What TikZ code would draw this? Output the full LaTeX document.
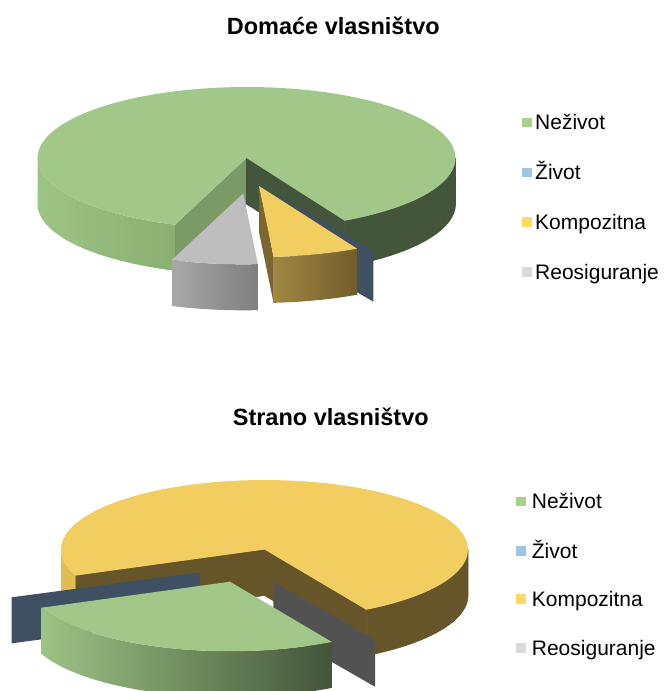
\documentclass[tikz,border=0pt]{standalone}
\usepackage{fontspec}
\setmainfont{Liberation Sans}
\definecolor{gtop}{HTML}{A1C789}
\definecolor{gsideL}{HTML}{9DC385}
\definecolor{gsideR}{HTML}{8AAF72}
\definecolor{gcut}{HTML}{7A9A66}
\definecolor{gdark}{HTML}{43553A}
\definecolor{gmid}{HTML}{85A86E}
\definecolor{ytop}{HTML}{F2CE60}
\definecolor{ysideL}{HTML}{A08744}
\definecolor{ysideR}{HTML}{725C2B}
\definecolor{ycut}{HTML}{7D6530}
\definecolor{yleft}{HTML}{E2BC52}
\definecolor{ydark}{HTML}{67552A}
\definecolor{rtop}{HTML}{BEBEBE}
\definecolor{rsideL}{HTML}{A8A8A8}
\definecolor{rsideR}{HTML}{7F7F7F}
\definecolor{rslab}{HTML}{525252}
\definecolor{bslab}{HTML}{3E5062}
\definecolor{lgN}{HTML}{A9D18E}
\definecolor{lgZ}{HTML}{9DC3E6}
\definecolor{lgK}{HTML}{FFD966}
\definecolor{lgR}{HTML}{D9D9D9}
% top face of a slice: style, cx, cy, rx, ry, t1, t2
\newcommand\PTop[7]{\path[#1] (#2,#3) -- plot[domain=#6:#7,samples=90] ({#2+#4*cos(\x)},{#3+#5*sin(\x)}) -- cycle;}
% outer side of a slice: style, cx, cy, rx, ry, h, t1, t2
\newcommand\PSide[8]{\path[#1] plot[domain=#7:#8,samples=50] ({#2+#4*cos(\x)},{#3+#5*sin(\x)}) -- plot[domain=#8:#7,samples=50] ({#2+#4*cos(\x)},{#3+#6+#5*sin(\x)}) -- cycle;}
% cut face of a slice: style, cx, cy, rx, ry, h, t
\newcommand\PCut[7]{\path[#1] (#2,#3) -- ({#2+#4*cos(#7)},{#3+#5*sin(#7)}) -- ({#2+#4*cos(#7)},{#3+#6+#5*sin(#7)}) -- (#2,{#3+#6}) -- cycle;}
\begin{document}
\begin{tikzpicture}[x=1pt,y=-1pt,
  ttl/.style={font=\bfseries\fontsize{23.5}{28}\selectfont, anchor=base, inner sep=0pt},
  leg/.style={font=\fontsize{21}{25}\selectfont, anchor=base west, inner sep=0pt},
  legbox/.style={minimum width=10pt, minimum height=9.5pt, inner sep=0pt, draw=none},
  gface/.style={fill=gdark, draw=gdark, line width=0.6pt, line join=round},
  yface/.style={fill=ydark, draw=ydark, line width=0.6pt, line join=round}]
\useasboundingbox (0,0) rectangle (664,691);
\clip (0,0) rectangle (664,691);

% ---------- Domace vlasnistvo ----------
\node[ttl] (t1) at (333.3,34) {Domaće vlasništvo};
% main green slice (Nezivot)
\PSide{left color=gsideL,right color=gsideR}{246.5}{158}{209}{71}{46}{110}{180}
\PSide{gface}{246.5}{158}{209}{71}{46}{0}{62}
\PCut{fill=gcut}{246.5}{158}{209}{71}{46}{110}
\PCut{gface}{246.5}{158}{209}{71}{46}{62}
\PTop{fill=gtop}{246.5}{158}{209}{71}{110}{422}
% Zivot sliver
\fill[bslab] (260,186) -- (373.3,250.7) -- (373.3,301.7) -- (260,235) -- cycle;
% Kompozitna
\PCut{fill=ycut}{259}{186}{209}{71}{46}{86}
\PSide{left color=ysideL,right color=ysideR}{259}{186}{209}{71}{46}{62}{86}
\PTop{fill=ytop}{259}{186}{209}{71}{62}{86}
% Reosiguranje
\PSide{left color=rsideL,right color=rsideR}{243.3}{193.3}{209}{71}{46}{86}{110}
\PTop{fill=rtop}{243.3}{193.3}{209}{71}{86}{110}

% legend 1
\node[legbox,fill=lgN] (a1) at (526.7,122.7) {};
\node[leg] (a1t) at (535,129.7) {Neživot};
\node[legbox,fill=lgZ] (a2) at (526.7,172.5) {};
\node[leg] (a2t) at (535,179.5) {Život};
\node[legbox,fill=lgK] (a3) at (526.7,222) {};
\node[leg] (a3t) at (535,229) {Kompozitna};
\node[legbox,fill=lgR] (a4) at (526.7,272) {};
\node[leg] (a4t) at (535,279) {Reosiguranje};

% ---------- Strano vlasnistvo ----------
\node[ttl] (t2) at (330.8,425.7) {Strano vlasništvo};
% main yellow slice (Kompozitna)
\PSide{fill=yleft}{264.5}{549.5}{203.5}{69.5}{46}{158}{180}
\PSide{yface}{264.5}{549.5}{203.5}{69.5}{46}{0}{60}
\PCut{yface}{264.5}{549.5}{203.5}{69.5}{46}{158}
\PCut{yface}{264.5}{549.5}{203.5}{69.5}{46}{60}
\PTop{fill=ytop}{264.5}{549.5}{203.5}{69.5}{158}{420}
% Zivot slab
\fill[bslab] (200,572.3) -- (11.7,597.3) -- (11.7,643.3) -- (200,618.3) -- cycle;
% Reosiguranje slab
\fill[rslab] (273.3,581.7) -- (375,640) -- (375,686.7) -- (273.3,628.4) -- cycle;
% Nezivot slice
\PSide{left color=gsideL,middle color=gmid,right color=gdark}{230}{581.7}{203.5}{69.5}{46}{60}{158}
\PTop{fill=gtop}{230}{581.7}{203.5}{69.5}{60}{158}

% legend 2
\node[legbox,fill=lgN] (b1) at (520.8,501.7) {};
\node[leg] (b1t) at (531.7,508.7) {Neživot};
\node[legbox,fill=lgZ] (b2) at (520.8,551) {};
\node[leg] (b2t) at (531.7,558) {Život};
\node[legbox,fill=lgK] (b3) at (520.8,599) {};
\node[leg] (b3t) at (531.7,606) {Kompozitna};
\node[legbox,fill=lgR] (b4) at (520.8,648) {};
\node[leg] (b4t) at (531.7,655) {Reosiguranje};
\end{tikzpicture}
\end{document}
